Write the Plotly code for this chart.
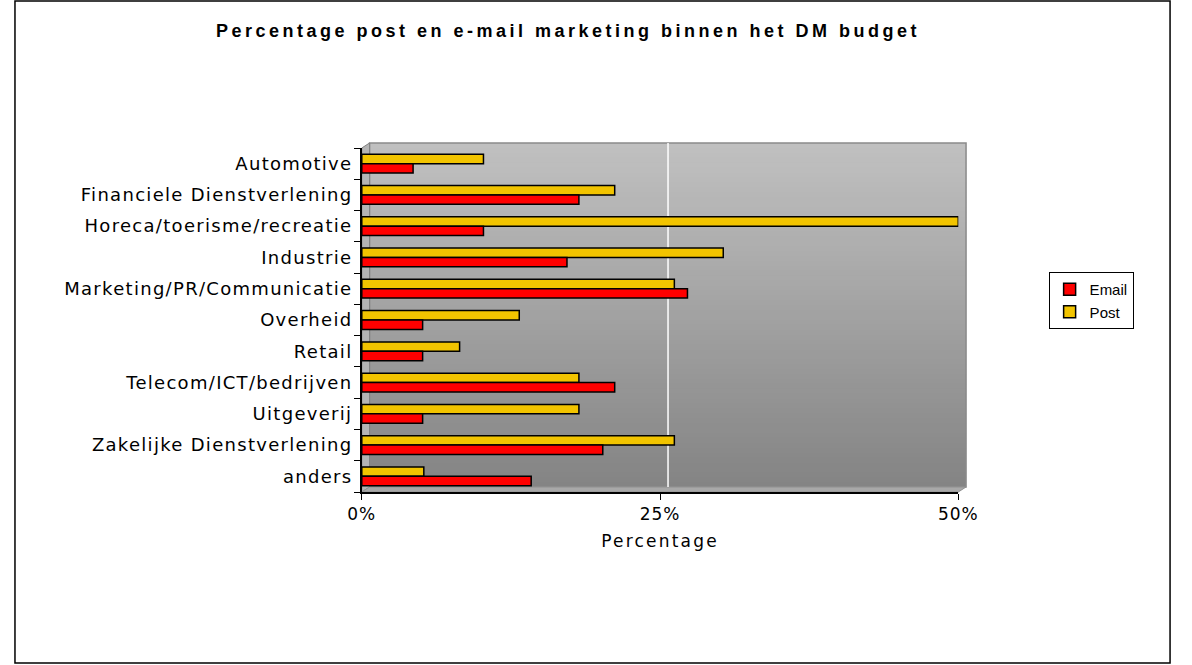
import plotly.graph_objects as go

categories = ["Automotive", "Financiele Dienstverlening", "Horeca/toerisme/recreatie",
              "Industrie", "Marketing/PR/Communicatie", "Overheid", "Retail",
              "Telecom/ICT/bedrijven", "Uitgeverij", "Zakelijke Dienstverlening", "anders"]
post = [10.2, 21.2, 50.0, 30.3, 26.2, 13.2, 8.2, 18.2, 18.2, 26.2, 5.2]
email = [4.3, 18.2, 10.2, 17.2, 27.3, 5.1, 5.1, 21.2, 5.1, 20.2, 14.2]
x_ticks = [0, 25, 50]
x_tick_labels = ["0%", "25%", "50%"]


def spaced(s, px):
    return '<span style="letter-spacing:%spx">%s</span>' % (px, s)


W, H = 1192, 665
PX0, PX1, PY0, PY1 = 358, 972, 148, 492
x0, x1 = PX0 / W, PX1 / W
y0, y1 = 1 - PY1 / H, 1 - PY0 / H
pw, ph = PX1 - PX0, PY1 - PY0
dx, dy = 8 / pw, 5 / ph  # 3D depth offset in domain units

fig = go.Figure()
fig.add_trace(go.Bar(name="Post", y=categories, x=post, orientation="h",
                     marker=dict(color="#f2c400", line=dict(color="black", width=1.5))))
fig.add_trace(go.Bar(name="Email", y=categories, x=email, orientation="h",
                     marker=dict(color="#ff0000", line=dict(color="black", width=1.5))))

shapes = []
# gradient back wall
n = 70
c_top = (192, 192, 192)
c_bot = (132, 132, 132)
wt, wb = 1 + dy, dy
for i in range(n):
    t = i / (n - 1)
    c = tuple(int(round(c_top[k] + (c_bot[k] - c_top[k]) * t)) for k in range(3))
    ya = wt - (wt - wb) * i / n
    yb = wt - (wt - wb) * (i + 1) / n - 0.004
    shapes.append(dict(type="rect", xref="x domain", yref="y domain", layer="below",
                       x0=dx, x1=1 + dx, y0=max(yb, wb), y1=ya,
                       fillcolor="rgb(%d,%d,%d)" % c, line=dict(width=0)))
shapes.append(dict(type="rect", xref="x domain", yref="y domain", layer="below",
                   x0=dx, x1=1 + dx, y0=wb, y1=wt,
                   line=dict(color="#8a8a8a", width=1.5), fillcolor="rgba(0,0,0,0)"))
shapes.append(dict(type="path", xref="x domain", yref="y domain", layer="below",
                   path="M 0 0 L %f %f L %f %f L 0 1 Z" % (dx, wb, dx, wt),
                   fillcolor="#b4b4b4", line=dict(color="#808080", width=1)))
shapes.append(dict(type="path", xref="x domain", yref="y domain", layer="below",
                   path="M 0 0 L %f %f L %f %f L 1 0 Z" % (dx, wb, 1 + dx, wb),
                   fillcolor="#a8a8a8", line=dict(color="#909090", width=1)))
shapes.append(dict(type="line", xref="x", yref="y domain", layer="below",
                   xsizemode="pixel", xanchor=25, x0=8, x1=8, y0=wb, y1=wt,
                   line=dict(color="white", width=1.5)))
shapes.append(dict(type="rect", xref="paper", yref="paper", x0=1 / W, x1=1 - 2 / W,
                   y0=2 / H, y1=1 - 1 / H, line=dict(color="black", width=1.5),
                   fillcolor="rgba(0,0,0,0)"))

fig.update_layout(
    width=W, height=H,
    margin=dict(l=0, r=0, t=0, b=0),
    paper_bgcolor="white",
    plot_bgcolor="rgba(0,0,0,0)",
    barmode="group",
    bargap=0.40,
    bargroupgap=0.0,
    showlegend=True,
    legend=dict(x=1065 / W, y=1 - 272 / H, xanchor="left", yanchor="top",
                traceorder="reversed", bordercolor="black", borderwidth=1,
                bgcolor="white", font=dict(family="Liberation Sans, Arial", size=15, color="black"),
                itemwidth=30, tracegroupgap=0),
    title=dict(text="<b>" + spaced("Percentage post en e-mail marketing binnen het DM budget", 3.5) + "</b>",
               x=568 / W, xanchor="center", y=1 - 31 / H, yanchor="middle",
               font=dict(family="Liberation Sans, Arial", size=18, color="black")),
    shapes=shapes,
    xaxis=dict(domain=[x0, x1], range=[0, 50], tickvals=x_ticks,
               ticktext=[spaced(t, 1) for t in x_tick_labels],
               showgrid=False,
               showline=True, linecolor="black", linewidth=1.5,
               ticks="outside", ticklen=6, tickcolor="black",
               zeroline=False,
               tickfont=dict(family="DejaVu Sans", size=17, color="black"),
               title=dict(text=spaced("Percentage", 2.2), standoff=12,
                          font=dict(family="DejaVu Sans", size=17, color="black"))),
    yaxis=dict(domain=[y0, y1], autorange="reversed",
               categoryorder="array", categoryarray=categories,
               tickvals=categories, ticktext=[spaced(c, 1.3) for c in categories],
               showline=True, linecolor="black", linewidth=1.5,
               ticks="outside", ticklen=6, tickcolor="black", tickson="boundaries",
               showgrid=False,
               tickfont=dict(family="DejaVu Sans", size=18, color="black"),
               ticklabelstandoff=4),
)

fig.write_html("out.html")
